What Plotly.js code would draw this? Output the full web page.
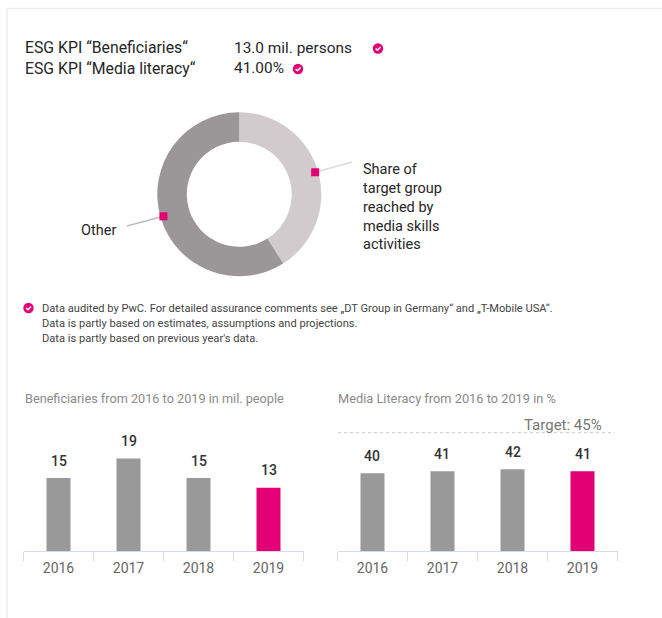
<!DOCTYPE html>
<html>
<head>
<meta charset="utf-8">
<script src="https://cdn.plot.ly/plotly-3.0.1.min.js"></script>
<style>html,body{margin:0;padding:0;background:#fff;overflow:hidden}</style>
</head>
<body>
<div id="chart" style="width:662px;height:618px"></div>
<script>
const years = ['2016','2017','2018','2019'];
const beneficiaries = [15,19,15,13];
const mediaLiteracy = [40,41,42,41];
const pieLabels = ['Share of target group reached by media skills activities','Other'];
const pieValues = [41,59];
const kpiLabels = ['ESG KPI “Beneficiaries“','ESG KPI “Media literacy“'];
const kpiValues = ['13.0 mil. persons','41.00%'];
const footnotes = ['Data audited by PwC. For detailed assurance comments see „DT Group in Germany“ and „T-Mobile USA“.','Data is partly based on estimates, assumptions and projections.','Data is partly based on previous year\'s data.'];
const chartTitles = ['Beneficiaries from 2016 to 2019 in mil. people','Media Literacy from 2016 to 2019 in %'];
const targetLabel = 'Target: 45%';

const W=662,H=618, FONT='Roboto, sans-serif', PINK='#e20074', GREY='#999999';
const px=x=>x/W, py=y=>1-y/H;
const ann=[], shp=[];
function text(t,x,y,size,color,anchor){
  ann.push({text:t,x:px(x),y:py(y),xref:'paper',yref:'paper',xanchor:anchor||'left',yanchor:'middle',showarrow:false,align:'left',borderpad:0,
    font:{family:FONT,size:size,color:color}});
}
function line(x0,y0,x1,y1,color,width,dash,layer){
  shp.push({type:'line',xref:'paper',yref:'paper',x0:px(x0),y0:py(y0),x1:px(x1),y1:py(y1),line:{color:color,width:width,dash:dash||'solid'},layer:layer||'above'});
}
function check(cx,cy,r){
  shp.push({type:'circle',xref:'paper',yref:'paper',x0:px(cx-r),x1:px(cx+r),y0:py(cy-r),y1:py(cy+r),fillcolor:PINK,line:{width:0}});
  shp.push({type:'path',xref:'paper',yref:'paper',path:`M ${px(cx-2.4)} ${py(cy+0.1)} L ${px(cx-0.6)} ${py(cy+1.8)} L ${px(cx+2.6)} ${py(cy-1.6)}`,line:{color:'#fff',width:1.4}});
}

// frame
line(7,8.5,662,8.5,'#eeeeee',1.5);
line(7,8,7,618,'#eeeeee',1.5);

// KPI block
text(kpiLabels[0],24,48,15.8,'#262626');
text(kpiLabels[1],24,68,15.8,'#262626');
text(kpiValues[0],233,48,15.4,'#262626');
text(kpiValues[1],233,68,15.4,'#262626');
check(378,48.5,5.2);
check(298,69,5.2);

// donut
const cx=239.3, cy=194.3, R=82, hole=0.64, midR=79;
const total=pieValues.reduce((a,b)=>a+b,0);
function ringPoint(frac){const a=frac*2*Math.PI;return [cx+midR*Math.sin(a),cy-midR*Math.cos(a)];}
const shareMid=ringPoint(pieValues[0]/2/total);
const otherMid=ringPoint((pieValues[0]+pieValues[1]/2)/total);
line(shareMid[0],shareMid[1],352,162,'#dddddd',1.5);
line(otherMid[0],otherMid[1],127,226,'#bdbdbd',1.5);
[shareMid,otherMid].forEach(p=>shp.push({type:'rect',xref:'paper',yref:'paper',x0:px(p[0]-4),x1:px(p[0]+4),y0:py(p[1]-4),y1:py(p[1]+4),fillcolor:PINK,line:{width:0}}));
text('Share of<br>target group<br>reached by<br>media skills<br>activities',361.5,206.5,14.5,'#262626');
text('Other',80,230,14.5,'#262626');

// footnotes
check(28.5,308,5.2);
text(footnotes[0],40.5,308.5,11.1,'#444444');
text(footnotes[1],40.5,323.5,11.1,'#444444');
text(footnotes[2],40.5,338,11.1,'#444444');

// bar titles
text(chartTitles[0],23.5,398,12.7,'#8a8a8a');
text(chartTitles[1],337.5,398,12.8,'#8a8a8a');
text(targetLabel,602.5,424.5,15,'#777777','right');
line(338,432.7,615,432.7,'#cccccc',1,'3px,3px');

// value labels (category axes take the category's index in annotations)
function valueLabels(vals,xa,ya){
  vals.forEach((v,i)=>ann.push({text:String(v),x:i,y:v,xref:xa,yref:ya,xanchor:'center',yanchor:'bottom',yshift:7.5,showarrow:false,
    font:{family:FONT,size:14,weight:500,color:'#333333'}}));
}
valueLabels(beneficiaries,'x','y');
valueLabels(mediaLiteracy,'x2','y2');

const barColors=years.map((y,i)=>i===years.length-1?PINK:GREY);
const data=[
 {type:'pie',labels:pieLabels,values:pieValues,sort:false,direction:'clockwise',rotation:0,hole:hole,textinfo:'none',hoverinfo:'label+percent',
  marker:{colors:['#d2cbce','#9b9798'],line:{width:0}},domain:{x:[px(cx-R),px(cx+R)],y:[py(cy+R),py(cy-R)]},showlegend:false},
 {type:'bar',x:years,y:beneficiaries,xaxis:'x',yaxis:'y',width:0.343,marker:{color:barColors},hoverinfo:'x+y'},
 {type:'bar',x:years,y:mediaLiteracy,xaxis:'x2',yaxis:'y2',width:0.343,marker:{color:barColors},hoverinfo:'x+y'}
];
function xAxis(anchor,d0,d1){return {domain:[px(d0),px(d1)],anchor:anchor,type:'category',categoryorder:'array',categoryarray:years,range:[-0.5,3.5],fixedrange:true,
  tickson:'boundaries',ticks:'outside',ticklen:9,tickwidth:1,tickcolor:'#d3daea',showline:true,linecolor:'#d3daea',linewidth:1,showgrid:false,zeroline:false,ticklabelstandoff:4,
  tickfont:{family:FONT,size:14,color:'#666666'}};}
function yAxis(anchor,r){return {domain:[py(551),py(424.5)],anchor:anchor,range:[0,r],visible:false,showgrid:false,zeroline:false,fixedrange:true};}
const layout={width:W,height:H,margin:{l:0,r:0,t:0,b:0},paper_bgcolor:'#fff',plot_bgcolor:'rgba(0,0,0,0)',showlegend:false,
  annotations:ann,shapes:shp,
  xaxis:xAxis('y',23.5,303.5),yaxis:yAxis('x',26),
  xaxis2:xAxis('y2',337.5,617.5),yaxis2:yAxis('x2',65)};
Plotly.newPlot('chart',data,layout,{displayModeBar:false,responsive:false});
</script>
</body>
</html>
